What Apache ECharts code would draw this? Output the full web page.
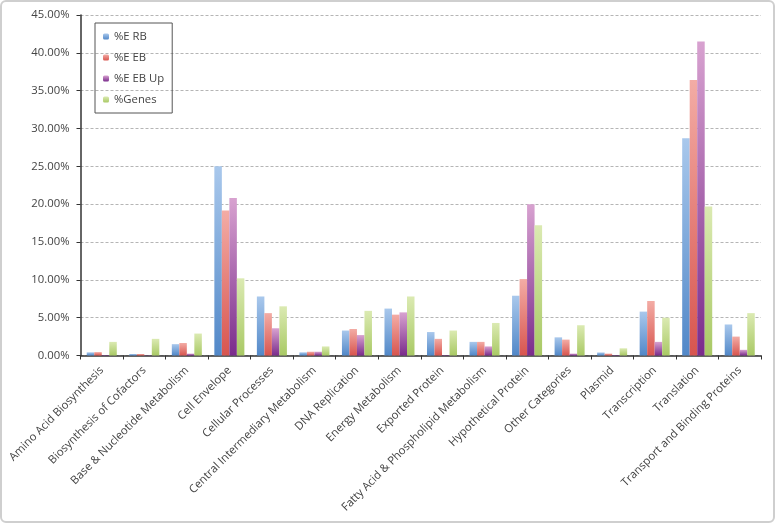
<!DOCTYPE html>
<html><head><meta charset="utf-8">
<script src="https://cdn.jsdelivr.net/npm/echarts@6/dist/echarts.min.js"></script>
<style>html,body{margin:0;padding:0;background:#fff}#c{width:776px;height:525px}</style>
</head><body><div id="c"></div>
<script>
var categories = ["Amino Acid Biosynthesis","Biosynthesis of Cofactors","Base & Nucleotide Metabolism","Cell Envelope","Cellular Processes","Central Intermediary Metabolism","DNA Replication","Energy Metabolism","Exported Protein","Fatty Acid & Phospholipid Metabolism","Hypothetical Protein","Other Categories","Plasmid","Transcription","Translation","Transport and Binding Proteins"];
var seriesNames = ["%E RB","%E EB","%E EB Up","%Genes"];
var eRB   = [0.42,0.2,1.5,25.0,7.8,0.42,3.3,6.2,3.1,1.8,7.9,2.4,0.4,5.8,28.7,4.1];
var eEB   = [0.45,0.2,1.65,19.15,5.6,0.5,3.5,5.4,2.2,1.8,10.1,2.1,0.25,7.2,36.4,2.5];
var eEBUp = [0.05,0.03,0.25,20.8,3.6,0.5,2.7,5.7,0.05,1.2,20.0,0.25,0.05,1.8,41.5,0.75];
var genes = [1.8,2.2,2.9,10.2,6.5,1.2,5.9,7.8,3.3,4.3,17.2,4.0,0.95,5.0,19.7,5.6];
var yTicks = {min:0, max:45, interval:5};

function grad(top, bottom){
  return new echarts.graphic.LinearGradient(0,0,0,1,[{offset:0,color:top},{offset:1,color:bottom}]);
}
var colors = [grad('#a9c8ec','#5288c8'), grad('#f3aca5','#d8554f'), grad('#d8a2d0','#7a2c8c'), grad('#dbeab2','#a9c965')];
var dataSets = [eRB, eEB, eEBUp, genes];
var font = 'Open Sans';
var fs = 11.3;
var chart = echarts.init(document.getElementById('c'), null, {renderer:'canvas'});
chart.setOption({
  animation:false,
  textStyle:{fontFamily:font},
  graphic:[{type:'rect', shape:{x:1,y:1,width:773,height:521,r:5}, style:{fill:'none',stroke:'#cfcfcf',lineWidth:2}, z:100}],
  grid:{left:80.5,right:15,top:15,bottom:169.5,containLabel:false},
  legend:{
    orient:'vertical', left:95, top:23, itemWidth:6, itemHeight:6, itemGap:10,
    padding:[8,8,8,8], borderColor:'#555', borderWidth:1,
    textStyle:{fontSize:fs,color:'#444',fontFamily:font},
    data:seriesNames
  },
  xAxis:{
    type:'category', data:categories,
    axisLine:{lineStyle:{color:'#333',width:1.5}},
    axisTick:{show:true,length:4,lineStyle:{color:'#333'}},
    axisLabel:{rotate:45,interval:0,fontSize:fs,color:'#444',fontFamily:font,margin:13}
  },
  yAxis:{
    type:'value', min:yTicks.min, max:yTicks.max, interval:yTicks.interval,
    axisLine:{show:true,lineStyle:{color:'#333',width:1.5}},
    axisTick:{show:true,length:4,lineStyle:{color:'#333'}},
    axisLabel:{fontSize:fs,color:'#444',fontFamily:font,margin:11,formatter:function(v){return v.toFixed(2)+'%';}},
    splitLine:{show:true,lineStyle:{color:'#b5b5b5',type:[3,2],width:1}}
  },
  series: seriesNames.map(function(n,i){
    return {name:n,type:'bar',data:dataSets[i],barGap:'0%',barCategoryGap:'29.4%',itemStyle:{color:colors[i]}};
  })
});
</script></body></html>
